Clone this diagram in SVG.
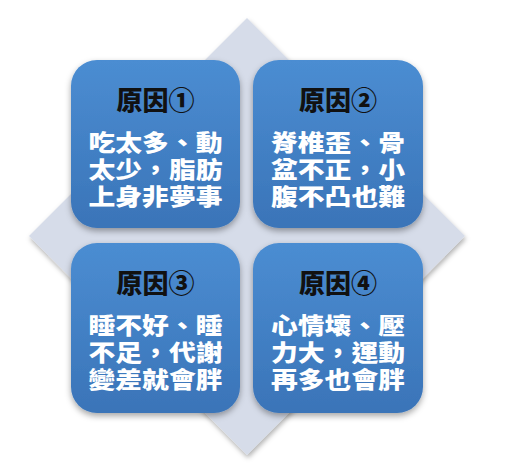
<svg xmlns="http://www.w3.org/2000/svg" width="514" height="472" viewBox="0 0 514 472">
<defs>
<linearGradient id="g" x1="0" y1="0" x2="0" y2="1">
<stop offset="0" stop-color="#4b8dd2"/>
<stop offset="1" stop-color="#3a74b8"/>
</linearGradient>
<filter id="sh" x="-20%" y="-20%" width="140%" height="140%">
<feDropShadow dx="0" dy="3" stdDeviation="3" flood-color="#000" flood-opacity="0.35"/>
</filter>
<filter id="shd" x="-10%" y="-10%" width="120%" height="120%">
<feDropShadow dx="1" dy="3" stdDeviation="2.5" flood-color="#000" flood-opacity="0.3"/>
</filter>
</defs>
<style>
.box{fill:url(#g);filter:url(#sh)}
.t{font-family:"Noto Sans CJK TC","Noto Sans CJK SC","Liberation Sans",sans-serif;font-weight:900;font-size:26px;fill:#111;text-anchor:middle}
.b{font-family:"Noto Sans CJK TC","Noto Sans CJK SC","Liberation Sans",sans-serif;font-weight:900;font-size:23px;fill:#fff;text-anchor:middle}
</style>
<rect width="514" height="472" fill="#fff"/>
<polygon points="247,18 465,236 247,455 29,236" fill="#d6dce9" filter="url(#shd)"/>
<g id="node1">
<rect class="box" x="71" y="60" width="169" height="168" rx="26"/>
<text class="t" x="155.5" y="110">原因①</text>
<text class="b"><tspan x="155.5" y="151" textLength="134" lengthAdjust="spacingAndGlyphs">吃太多、動</tspan><tspan x="155.5" y="178" textLength="134" lengthAdjust="spacingAndGlyphs">太少，脂肪</tspan><tspan x="155.5" y="205" textLength="134" lengthAdjust="spacingAndGlyphs">上身非夢事</tspan></text>
</g>
<g id="node2">
<rect class="box" x="253" y="60" width="170" height="168" rx="26"/>
<text class="t" x="338" y="110">原因②</text>
<text class="b"><tspan x="338" y="151" textLength="134" lengthAdjust="spacingAndGlyphs">脊椎歪、骨</tspan><tspan x="338" y="178" textLength="134" lengthAdjust="spacingAndGlyphs">盆不正，小</tspan><tspan x="338" y="205" textLength="134" lengthAdjust="spacingAndGlyphs">腹不凸也難</tspan></text>
</g>
<g id="node3">
<rect class="box" x="71" y="243" width="169" height="170" rx="26"/>
<text class="t" x="155.5" y="293">原因③</text>
<text class="b"><tspan x="155.5" y="334" textLength="134" lengthAdjust="spacingAndGlyphs">睡不好、睡</tspan><tspan x="155.5" y="361" textLength="134" lengthAdjust="spacingAndGlyphs">不足，代謝</tspan><tspan x="155.5" y="388" textLength="134" lengthAdjust="spacingAndGlyphs">變差就會胖</tspan></text>
</g>
<g id="node4">
<rect class="box" x="253" y="243" width="170" height="170" rx="26"/>
<text class="t" x="338" y="293">原因④</text>
<text class="b"><tspan x="338" y="334" textLength="134" lengthAdjust="spacingAndGlyphs">心情壞、壓</tspan><tspan x="338" y="361" textLength="134" lengthAdjust="spacingAndGlyphs">力大，運動</tspan><tspan x="338" y="388" textLength="134" lengthAdjust="spacingAndGlyphs">再多也會胖</tspan></text>
</g>
<g id="connectors"></g>
</svg>
